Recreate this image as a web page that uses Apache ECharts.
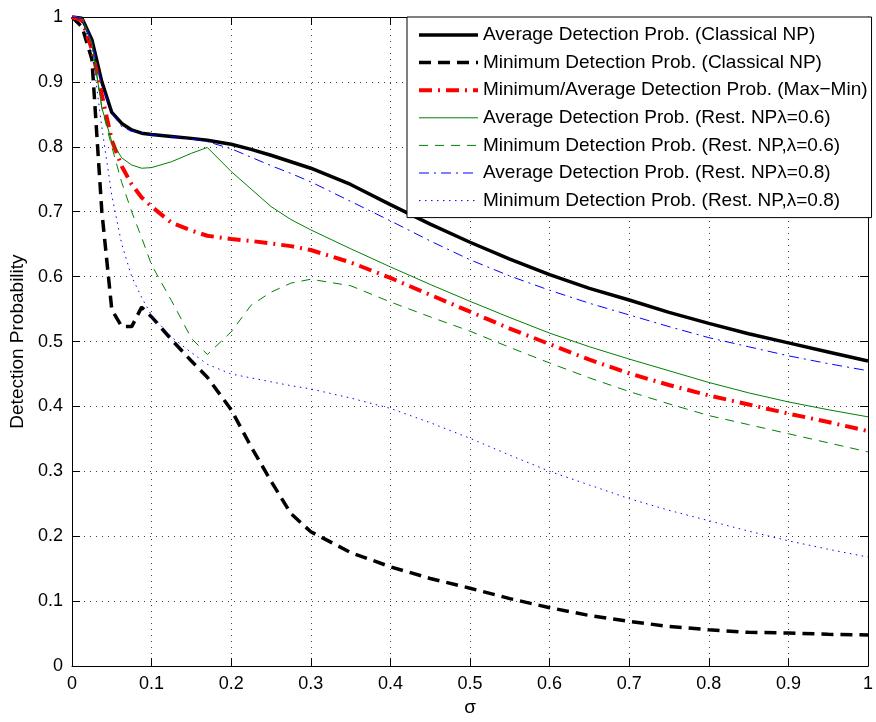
<!DOCTYPE html>
<html>
<head>
<meta charset="utf-8">
<script src="https://cdn.jsdelivr.net/npm/echarts@6/dist/echarts.min.js"></script>
<style>
html,body{margin:0;padding:0;background:#fff;}
#chart{width:876px;height:722px;}
</style>
</head>
<body>
<div id="chart"></div>
<script>
// sigma values (x)
var sigma = [0, 0.0125, 0.025, 0.0375, 0.05, 0.0625, 0.075, 0.0875, 0.1, 0.125, 0.15, 0.17, 0.2, 0.225, 0.25, 0.275, 0.3, 0.35, 0.4, 0.45, 0.5, 0.55, 0.6, 0.65, 0.7, 0.75, 0.8, 0.85, 0.9, 0.95, 1.0];

var avgClassical = [1, 0.998, 0.965, 0.900, 0.853, 0.836, 0.826, 0.821, 0.819, 0.816, 0.813, 0.810, 0.804, 0.796, 0.787, 0.777, 0.767, 0.742, 0.711, 0.681, 0.653, 0.627, 0.603, 0.582, 0.564, 0.545, 0.528, 0.512, 0.498, 0.484, 0.470];
var minClassical = [1, 0.985, 0.935, 0.700, 0.549, 0.523, 0.523, 0.553, 0.538, 0.503, 0.470, 0.445, 0.395, 0.338, 0.285, 0.235, 0.207, 0.175, 0.153, 0.135, 0.120, 0.104, 0.090, 0.078, 0.069, 0.061, 0.056, 0.052, 0.051, 0.049, 0.048];
var maxMin = [1, 0.995, 0.950, 0.880, 0.810, 0.770, 0.742, 0.722, 0.708, 0.683, 0.671, 0.663, 0.658, 0.655, 0.651, 0.647, 0.641, 0.622, 0.598, 0.572, 0.546, 0.520, 0.496, 0.472, 0.451, 0.433, 0.417, 0.403, 0.389, 0.376, 0.362];
var avgRest06 = [1, 0.998, 0.960, 0.860, 0.808, 0.783, 0.772, 0.767, 0.768, 0.777, 0.790, 0.799, 0.762, 0.735, 0.708, 0.688, 0.672, 0.643, 0.615, 0.588, 0.562, 0.537, 0.513, 0.492, 0.473, 0.455, 0.437, 0.421, 0.407, 0.395, 0.384];
var minRest06 = [1, 0.998, 0.960, 0.860, 0.800, 0.745, 0.700, 0.660, 0.618, 0.563, 0.505, 0.480, 0.515, 0.556, 0.576, 0.590, 0.596, 0.586, 0.561, 0.538, 0.516, 0.491, 0.467, 0.444, 0.423, 0.404, 0.386, 0.372, 0.358, 0.344, 0.330];
var avgRest08 = [1, 0.998, 0.963, 0.895, 0.852, 0.831, 0.824, 0.821, 0.819, 0.816, 0.812, 0.808, 0.797, 0.784, 0.771, 0.759, 0.746, 0.716, 0.686, 0.655, 0.626, 0.601, 0.579, 0.559, 0.541, 0.523, 0.506, 0.492, 0.478, 0.466, 0.455];
var minRest08 = [1, 0.995, 0.950, 0.830, 0.725, 0.650, 0.600, 0.568, 0.540, 0.507, 0.483, 0.465, 0.450, 0.444, 0.438, 0.432, 0.427, 0.413, 0.397, 0.375, 0.351, 0.325, 0.300, 0.279, 0.258, 0.240, 0.224, 0.208, 0.193, 0.180, 0.168];

var yTicks = [0, 0.1, 0.2, 0.3, 0.4, 0.5, 0.6, 0.7, 0.8, 0.9, 1];

var names = [
  'Average Detection Prob. (Classical NP)',
  'Minimum Detection Prob. (Classical NP)',
  'Minimum/Average Detection Prob. (Max\u2212Min)',
  'Average Detection Prob. (Rest. NP\u03bb=0.6)',
  'Minimum Detection Prob. (Rest. NP,\u03bb=0.6)',
  'Average Detection Prob. (Rest. NP\u03bb=0.8)',
  'Minimum Detection Prob. (Rest. NP,\u03bb=0.8)'
];
var seriesValues = [avgClassical, minClassical, maxMin, avgRest06, minRest06, avgRest08, minRest08];
var styles = [
  {color:'#000000', width:3.5, type:'solid'},
  {color:'#000000', width:3.5, type:[12,7]},
  {color:'#ff0000', width:4, type:[13,6,2,6]},
  {color:'#008000', width:1, type:'solid'},
  {color:'#008000', width:1, type:[9,7]},
  {color:'#0000ff', width:1, type:[10,5,2,5]},
  {color:'#0000ff', width:1, type:[1.5,4.5]}
];

function pairs(ys){ return sigma.map(function(x,i){ return [x, ys[i]]; }); }

var series = seriesValues.map(function(ys, k){
  return {
    name: names[k],
    type: 'line',
    data: pairs(ys),
    symbol: 'none',
    showSymbol: false,
    smooth: false,
    clip: true,
    lineStyle: {color: styles[k].color, width: styles[k].width, type: styles[k].type},
    itemStyle: {color: styles[k].color},
    xAxisIndex: 0, yAxisIndex: 0,
    z: 2 + k
  };
});

var FONT = 'Liberation Sans, Arial, Helvetica, sans-serif';
var grid = {left:72, right:3, top:17, bottom:49, containLabel:false};
var splitDotted = {show:true, lineStyle:{color:'#000', width:1, type:[1,5], opacity:0.75}};

var chart = echarts.init(document.getElementById('chart'), null, {renderer:'canvas'});
chart.setOption({
  animation: false,
  backgroundColor: '#ffffff',
  grid: grid,
  legend: {
    orient: 'vertical',
    left: 407, top: 17,
    padding: [8, 4, 7, 10],
    backgroundColor: '#ffffff',
    borderColor: '#000000',
    borderWidth: 1,
    itemWidth: 59,
    itemHeight: 14,
    itemGap: 7.6,
    textStyle: {fontFamily: FONT, fontSize: 19, color:'#000', lineHeight: 20},
    data: names.map(function(n,k){
      return {
        name:n,
        itemStyle:{color:'rgba(0,0,0,0)', borderWidth:0, opacity:0},
        lineStyle:{color:styles[k].color, width:styles[k].width, type:styles[k].type, opacity:1}
      };
    })
  },
  xAxis: [{
    type:'value', min:0, max:1, interval:0.1, position:'bottom',
    name:'\u03c3', nameLocation:'middle', nameGap:30,
    nameTextStyle:{fontFamily:FONT, fontSize:19, color:'#000'},
    axisLine:{show:true, onZero:false, lineStyle:{color:'#000', width:1}},
    axisTick:{show:true, inside:true, length:8, lineStyle:{color:'#000'}},
    axisLabel:{fontFamily:FONT, fontSize:18, color:'#000', margin:9},
    splitLine: splitDotted
  },{
    type:'value', min:0, max:1, interval:0.1, position:'top',
    axisLine:{show:true, onZero:false, lineStyle:{color:'#000', width:1}},
    axisTick:{show:true, inside:true, length:8, lineStyle:{color:'#000'}},
    axisLabel:{show:false}, splitLine:{show:false}
  }],
  yAxis: [{
    type:'value', min:0, max:1, interval:0.1, position:'left',
    name:'Detection Probability', nameLocation:'middle', nameGap:44,
    nameTextStyle:{fontFamily:FONT, fontSize:19, color:'#000'},
    axisLine:{show:true, onZero:false, lineStyle:{color:'#000', width:1}},
    axisTick:{show:true, inside:true, length:8, lineStyle:{color:'#000'}},
    axisLabel:{fontFamily:FONT, fontSize:18, color:'#000', margin:9,
      formatter:function(v){ var i = Math.round(v*10); return String(yTicks[i]); }},
    splitLine: splitDotted
  },{
    type:'value', min:0, max:1, interval:0.1, position:'right',
    axisLine:{show:true, onZero:false, lineStyle:{color:'#000', width:1}},
    axisTick:{show:true, inside:true, length:8, lineStyle:{color:'#000'}},
    axisLabel:{show:false}, splitLine:{show:false}
  }],
  series: series
});
</script>
</body>
</html>
